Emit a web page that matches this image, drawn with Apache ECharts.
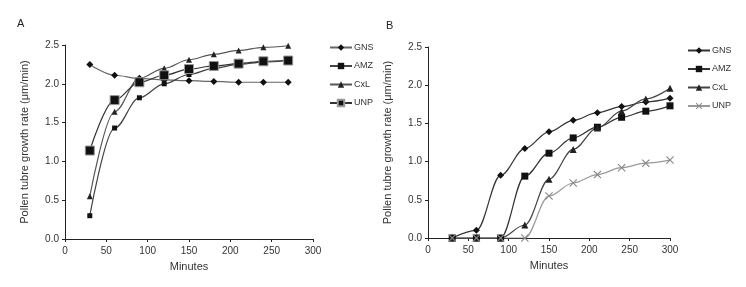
<!DOCTYPE html>
<html>
<head>
<meta charset="utf-8">
<script src="https://cdn.jsdelivr.net/npm/echarts@6/dist/echarts.min.js"></script>
<style>
  html, body { margin: 0; padding: 0; background: #fff; }
  #main { width: 746px; height: 287px; }
</style>
</head>
<body>
<div id="main"></div>
<script>
// minutes for each panel
var minutesA = [30, 60, 90, 120, 150, 180, 210, 240, 270];
var minutesB = [30, 60, 90, 120, 150, 180, 210, 240, 270, 300];

// panel A growth rates
var gnsA = [2.25, 2.11, 2.07, 2.05, 2.04, 2.03, 2.02, 2.02, 2.02];
var amzA = [0.30, 1.43, 1.82, 2.00, 2.12, 2.20, 2.25, 2.28, 2.30];
var cxlA = [0.55, 1.64, 2.07, 2.20, 2.31, 2.38, 2.43, 2.47, 2.49];
var unpA = [1.14, 1.79, 2.02, 2.11, 2.19, 2.23, 2.26, 2.29, 2.30];

// panel B growth rates
var gnsB = [0, 0.10, 0.82, 1.17, 1.39, 1.54, 1.64, 1.72, 1.78, 1.83];
var amzB = [0, 0, 0, 0.81, 1.11, 1.31, 1.45, 1.58, 1.66, 1.73];
var cxlB = [0, 0, 0, 0.17, 0.77, 1.16, 1.44, 1.66, 1.82, 1.96];
var unpB = [0, 0, 0, 0, 0.55, 0.72, 0.83, 0.92, 0.98, 1.02];

var names = ['GNS', 'AMZ', 'CxL', 'UNP'];

var FONT = 'Liberation Sans Narrow, Liberation Sans, Arial, sans-serif';
var crossSym = 'path://M0,1L1,0L5,4L9,0L10,1L6,5L10,9L9,10L5,6L1,10L0,9L4,5Z';

function pairs(xs, ys) {
  return xs.map(function (x, i) { return [x, ys[i]]; });
}

function xAxisFor(idx) {
  return {
    gridIndex: idx, type: 'value', min: 0, max: 300, interval: 50,
    name: 'Minutes', nameLocation: 'middle', nameGap: 22,
    nameTextStyle: { color: '#333', fontSize: 11, fontFamily: FONT },
    axisLine: { lineStyle: { color: '#222' } },
    axisTick: { show: true, length: 3, lineStyle: { color: '#222' } },
    axisLabel: { color: '#333', fontSize: 10, fontFamily: FONT, margin: 7 },
    splitLine: { show: false }
  };
}

function yAxisFor(idx) {
  return {
    gridIndex: idx, type: 'value', min: 0, max: 2.5, interval: 0.5,
    name: 'Pollen tubre growth rate (μm/min)', nameLocation: 'middle', nameGap: 35,
    nameTextStyle: { color: '#333', fontSize: 11, fontFamily: FONT },
    axisLine: { show: true, lineStyle: { color: '#222' } },
    axisTick: { show: true, length: 3, lineStyle: { color: '#222' } },
    axisLabel: { color: '#333', fontSize: 10, fontFamily: FONT, margin: 6,
      formatter: function (v) { return v.toFixed(1); } },
    splitLine: { show: false }
  };
}

function line(name, idx, xs, ys, sym, size, lineColor, symColor, borderColor) {
  return {
    name: name, type: 'line', xAxisIndex: idx, yAxisIndex: idx,
    data: pairs(xs, ys), smooth: 0.35, smoothMonotone: 'x',
    symbol: sym, symbolSize: size, showSymbol: true,
    lineStyle: { color: lineColor, width: 1.2 },
    itemStyle: { color: symColor, borderColor: borderColor || symColor, borderWidth: borderColor ? 1 : 0 },
    emphasis: { disabled: true }, animation: false
  };
}

var myChart = echarts.init(document.getElementById('main'));

var option = {
  animation: false,
  textStyle: { fontFamily: FONT },
  title: [
    { text: 'A', left: 12, top: 13, textStyle: { fontSize: 11, fontWeight: 'normal', color: '#222' } },
    { text: 'B', left: 381, top: 15, textStyle: { fontSize: 11, fontWeight: 'normal', color: '#222' } }
  ],
  grid: [
    { left: 65, top: 45, width: 248, height: 194 },
    { left: 428, top: 47, width: 242, height: 191 }
  ],
  xAxis: [xAxisFor(0), xAxisFor(1)],
  yAxis: [yAxisFor(0), yAxisFor(1)],
  legend: [
    { data: names, orient: 'vertical', left: 324, top: 38, itemGap: 9.5, itemWidth: 22, itemHeight: 8,
      textStyle: { fontSize: 9, color: '#333', padding: [0, 0, 0, -3] }, selectedMode: false },
    { data: names.map(function (n) { return 'B ' + n; }), orient: 'vertical', left: 682, top: 41, itemGap: 9.5,
      itemWidth: 22, itemHeight: 8,
      formatter: function (n) { return n.slice(2); },
      textStyle: { fontSize: 9, color: '#333', padding: [0, 0, 0, -3] }, selectedMode: false }
  ],
  series: [
    line('GNS', 0, minutesA, gnsA, 'diamond', 7, '#666', '#111'),
    line('AMZ', 0, minutesA, amzA, 'rect', 5, '#444', '#111'),
    line('CxL', 0, minutesA, cxlA, 'triangle', 6, '#555', '#222'),
    line('UNP', 0, minutesA, unpA, 'rect', 9, '#333', '#111', '#999'),
    line('B GNS', 1, minutesB, gnsB, 'diamond', 7, '#333', '#111'),
    line('B AMZ', 1, minutesB, amzB, 'rect', 7, '#333', '#111'),
    line('B CxL', 1, minutesB, cxlB, 'triangle', 7, '#444', '#222'),
    line('B UNP', 1, minutesB, unpB, crossSym, 8, '#999', '#888')
  ]
};

option && myChart.setOption(option);
window.onresize = myChart.resize;
</script>
</body>
</html>
